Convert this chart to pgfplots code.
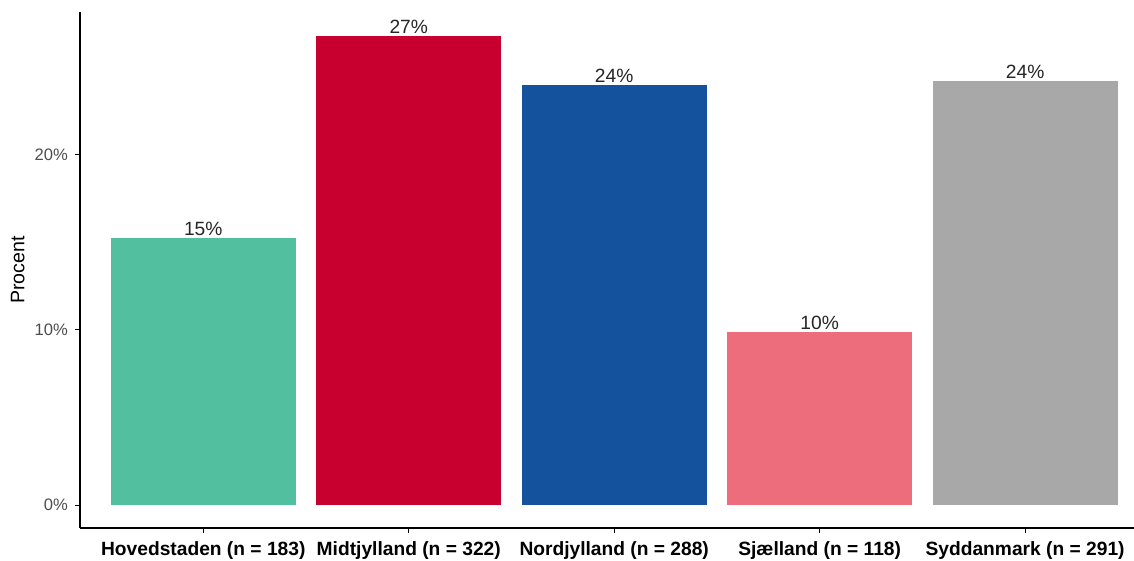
\documentclass[border=0pt]{standalone}
\usepackage{pgfplots}
\pgfplotsset{compat=1.18}
\usepackage{fontspec}
\setmainfont{Liberation Sans}
\definecolor{cteal}{HTML}{52BF9E}
\definecolor{cred}{HTML}{C8002F}
\definecolor{cblue}{HTML}{15529E}
\definecolor{cpink}{HTML}{EE6D7C}
\definecolor{cgrey}{HTML}{A8A8A8}
\definecolor{ticktext}{HTML}{4D4D4D}
\begin{document}
\begin{tikzpicture}
\useasboundingbox (0,0) rectangle (567pt,280.5pt);
\begin{axis}[
  at={(40pt,16.5pt)}, anchor=south west,
  scale only axis, width=527pt, height=258pt,
  xmin=0.4, xmax=5.53, ymin=-1.314, ymax=28.17,
  axis x line*=bottom, axis y line*=left,
  axis line style={black, line width=0.6pt, -},
  tick align=outside, major tick length=2.5pt,
  tick style={black, line width=0.5pt},
  xtick={1,2,3,4,5},
  xticklabels={Hovedstaden (n = 183),Midtjylland (n = 322),Nordjylland (n = 288),Sjælland (n = 118),Syddanmark (n = 291)},
  x tick label style={font=\fontsize{9.6}{10}\selectfont\bfseries, text=black, yshift=-1pt},
  ytick={0,10,20},
  yticklabel={\pgfmathprintnumber{\tick}\%},
  y tick label style={font=\fontsize{8.3}{10}\selectfont, text=ticktext},
  /pgf/number format/assume math mode=true,
  ylabel={Procent},
  ylabel style={font=\fontsize{9.8}{10}\selectfont, anchor=center, at={(axis description cs:-0.059,0.5)}},
  ybar, bar width=0.9, bar shift=0pt,
  every axis plot/.append style={draw=none},
  nodes near coords={\pgfmathprintnumber[fixed,precision=0]{\pgfplotspointmeta}\%},
  nodes near coords style={font=\fontsize{9.6}{10}\selectfont, text=black!85, inner sep=0.8pt, anchor=south},
  clip=false,
]
\addplot[fill=cteal] coordinates {(1,15.26)};
\addplot[fill=cred] coordinates {(2,26.8)};
\addplot[fill=cblue] coordinates {(3,24.0)};
\addplot[fill=cpink] coordinates {(4,9.89)};
\addplot[fill=cgrey] coordinates {(5,24.23)};
\end{axis}
\end{tikzpicture}
\end{document}
